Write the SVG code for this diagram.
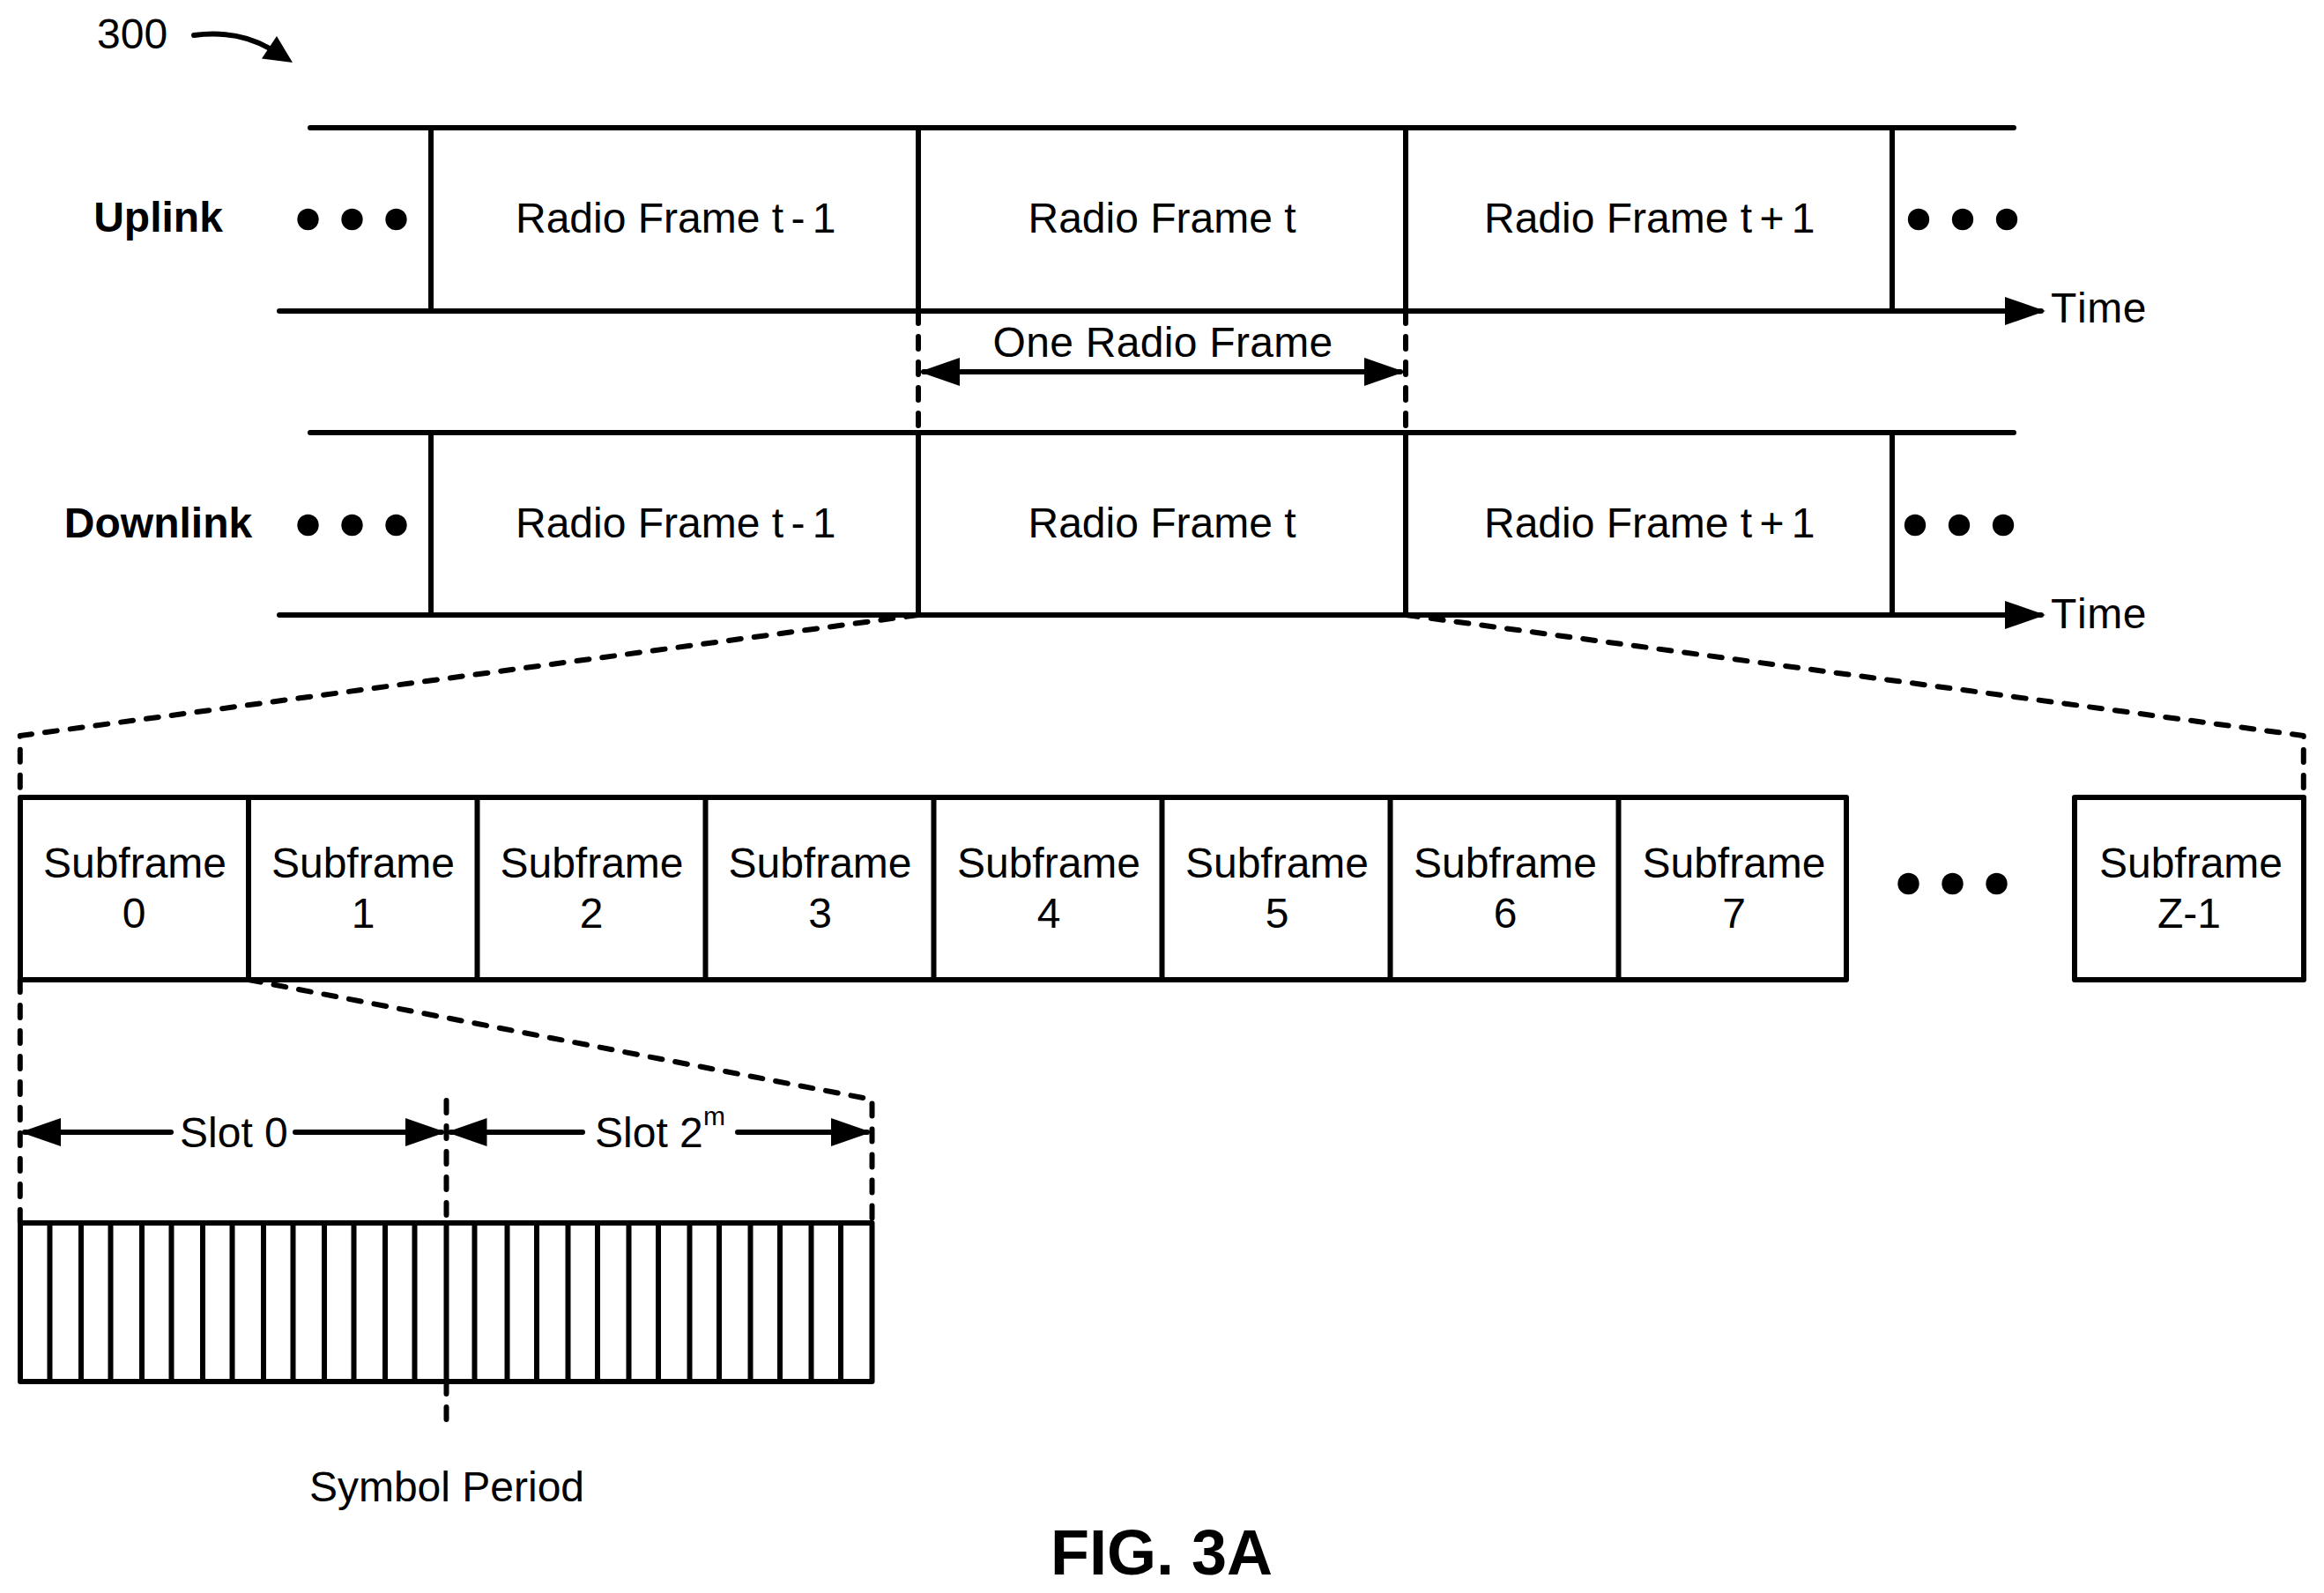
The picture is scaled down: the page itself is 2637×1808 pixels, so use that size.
<svg xmlns="http://www.w3.org/2000/svg" width="2637" height="1808" viewBox="0 0 2637 1808">
<defs>
<style>
text{font-family:"Liberation Sans",Arial,sans-serif;font-size:48px;fill:#000;font-kerning:none}
.m{text-anchor:middle}
.b{font-weight:bold}
.n{word-spacing:-5px}
.t{letter-spacing:.6px}
.l{stroke:#000;stroke-width:6;fill:none;stroke-linecap:round;stroke-linejoin:round}
.d{stroke:#000;stroke-width:6;fill:none;stroke-linecap:round;stroke-linejoin:round;stroke-dasharray:14 15}
.dt{fill:#000;stroke:none}
</style>
<marker id="ah" markerUnits="userSpaceOnUse" markerWidth="47" markerHeight="32" refX="41" refY="16" orient="auto-start-reverse"><path d="M0 0L46 16L0 32Z" fill="#000"/></marker>
<g id="dots3"><circle cx="0" cy="0" r="12.2" class="dt"/><circle cx="50" cy="0" r="12.2" class="dt"/><circle cx="100" cy="0" r="12.2" class="dt"/></g>
</defs>
<rect width="2637" height="1808" fill="#fff"/>
<g id="label-300">
<text x="110" y="55">300</text>
</g>
<g id="connectors">
<path class="l" d="M220 40C250 36 280 40 306 55"/>
<path d="M314 41L297 66.5L332 71Z" fill="#000"/>
<path class="l" d="M317 353H2316" marker-end="url(#ah)"/>
<path class="l" d="M317 698H2316" marker-end="url(#ah)"/>
<path class="l" d="M1048 422H1589" marker-start="url(#ah)" marker-end="url(#ah)"/>
<path class="d" d="M1042 353V491"/>
<path class="d" d="M1595 353V491"/>
<path class="d" d="M1042 698L22.800 835V905"/>
<path class="d" d="M1595 698L2613.800 835V905"/>
<path class="d" d="M22.800 1112V1388"/>
<path class="d" d="M282 1112L989.500 1248V1388"/>
<path class="d" d="M506.500 1249V1388"/>
<path class="d" d="M506.500 1568V1616"/>
<path class="l" d="M28 1285H194" marker-start="url(#ah)"/>
<path class="l" d="M335 1285H501" marker-end="url(#ah)"/>
<path class="l" d="M511.500 1285H661" marker-start="url(#ah)"/>
<path class="l" d="M837 1285H984" marker-end="url(#ah)"/>
</g>
<g id="uplink">
<text class="m b" x="179.500" y="263">Uplink</text>
<use href="#dots3" x="349.500" y="249"/>
<use href="#dots3" x="2177" y="249"/>
<path class="l" d="M352 145H2285M489 145V353M1042 145V353M1595 145V353M2147 145V353"/>
<text x="585" y="264">Radio Frame <tspan class="n">t - 1</tspan></text>
<text x="1166.500" y="264">Radio Frame t</text>
<text x="1684" y="264">Radio Frame <tspan class="n">t + 1</tspan></text>
<text class="t" x="2327" y="366">Time</text>
</g>
<g id="one-radio-frame"><text class="m" x="1319.500" y="405" style="letter-spacing:.3px">One Radio Frame</text></g>
<g id="downlink">
<text class="m b" x="179.500" y="610">Downlink</text>
<use href="#dots3" x="349.500" y="596"/>
<use href="#dots3" x="2173" y="596"/>
<path class="l" d="M352 491H2285M489 491V698M1042 491V698M1595 491V698M2147 491V698"/>
<text x="585" y="610">Radio Frame <tspan class="n">t - 1</tspan></text>
<text x="1166.500" y="610">Radio Frame t</text>
<text x="1684" y="610">Radio Frame <tspan class="n">t + 1</tspan></text>
<text class="t" x="2327" y="713">Time</text>
</g>
<g id="subframes">
<path class="l" d="M23 905H2095V1112H23ZM282 905V1112M541.500 905V1112M800.500 905V1112M1059.500 905V1112M1318.500 905V1112M1577.500 905V1112M1836.500 905V1112"/>
<path class="l" d="M2354 905H2614V1112H2354Z"/>
<text class="m" x="153" y="996">Subframe</text><text class="m" x="152" y="1053">0</text>
<text class="m" x="412" y="996">Subframe</text><text class="m" x="412" y="1053">1</text>
<text class="m" x="671.500" y="996">Subframe</text><text class="m" x="671" y="1053">2</text>
<text class="m" x="930.500" y="996">Subframe</text><text class="m" x="930.500" y="1053">3</text>
<text class="m" x="1190" y="996">Subframe</text><text class="m" x="1190" y="1053">4</text>
<text class="m" x="1449" y="996">Subframe</text><text class="m" x="1449" y="1053">5</text>
<text class="m" x="1708" y="996">Subframe</text><text class="m" x="1708" y="1053">6</text>
<text class="m" x="1967.500" y="996">Subframe</text><text class="m" x="1967.500" y="1053">7</text>
<text class="m" x="2486" y="996">Subframe</text><text class="m" x="2484" y="1053">Z-1</text>
<use href="#dots3" x="2165.500" y="1003"/>
</g>
<g id="slot-labels">
<text x="204" y="1302">Slot 0</text>
<text x="675" y="1302">Slot 2</text><text x="798" y="1277" style="font-size:30px">m</text>
</g>
<g id="symbols">
<path class="l" d="M23 1388H989.500V1568H23ZM56.500 1388V1568M92 1388V1568M125.500 1388V1568M161 1388V1568M194.500 1388V1568M230 1388V1568M263.500 1388V1568M299 1388V1568M332.500 1388V1568M368 1388V1568M401.500 1388V1568M437 1388V1568M470.500 1388V1568M506.500 1388V1568M538.500 1388V1568M575.500 1388V1568M609 1388V1568M644.500 1388V1568M678 1388V1568M713.500 1388V1568M747 1388V1568M782.500 1388V1568M816 1388V1568M851.500 1388V1568M885 1388V1568M920.500 1388V1568M954 1388V1568"/>
<text class="m" x="507" y="1703.500">Symbol Period</text>
</g>
<g id="figure-label"><text class="m b" x="1318" y="1787" style="font-size:72px">FIG. 3A</text></g>
</svg>
